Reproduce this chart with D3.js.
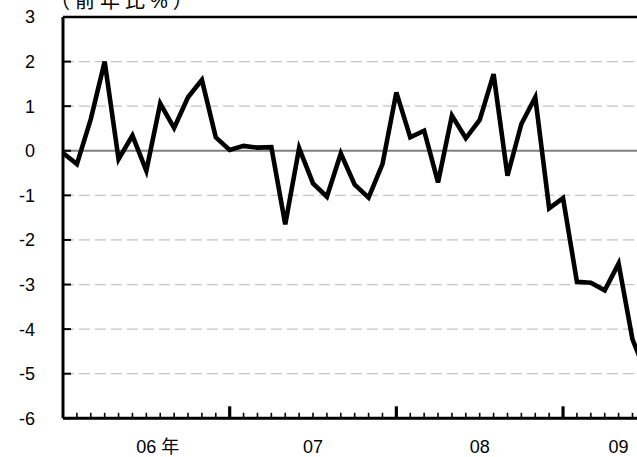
<!DOCTYPE html>
<html>
<head>
<meta charset="utf-8">
<script src="https://cdn.jsdelivr.net/npm/d3@7"></script>
<style>
  body { margin: 0; background: #fff; }
  svg { display: block; font-family: "Liberation Sans", Arial, "Noto Sans CJK JP", sans-serif; }
</style>
</head>
<body>
<div id="chart"></div>
<script>
// monthly y/y change (%), Jan 2006 onward
const yoy = [
  -0.05, -0.30, 0.71, 2.00, -0.19, 0.34, -0.45, 1.06, 0.51, 1.20, 1.59, 0.30,
  0.02, 0.11, 0.07, 0.08, -1.65, 0.06, -0.73, -1.03, -0.06, -0.76, -1.05, -0.30,
  1.31, 0.30, 0.45, -0.71, 0.79, 0.28, 0.69, 1.72, -0.56, 0.60, 1.20, -1.29,
  -1.06, -2.94, -2.96, -3.13, -2.53, -4.23, -5.00
];
const yearLabels = ['06', '07', '08', '09'];
const yearSuffix = ['年', '', '', ''];
const yearStarts = [0, 12, 24, 36];
const axisMonths = 44;
const yTicks = [3, 2, 1, 0, -1, -2, -3, -4, -5, -6];
const unitLabel = '（前年比%）';

const W = 637, H = 457;
const plotLeft = 63, plotTop = 17, plotBottom = 418.3;
const monthW = 13.89;

const svg = d3.select('#chart').append('svg')
  .attr('width', W).attr('height', H);

const x = d3.scaleLinear().domain([0, axisMonths]).range([plotLeft, plotLeft + axisMonths * monthW]);
const y = d3.scaleLinear().domain([-6, 3]).range([plotBottom, plotTop]);

// dashed gridlines
svg.append('g')
  .selectAll('line')
  .data(yTicks.filter(d => d !== 0 && d !== 3 && d !== -6))
  .join('line')
  .attr('x1', plotLeft).attr('x2', x(axisMonths))
  .attr('y1', d => y(d)).attr('y2', d => y(d))
  .attr('stroke', '#c4c4c4')
  .attr('stroke-width', 1.3)
  .attr('stroke-dasharray', '11,5');

// zero line
svg.append('line')
  .attr('x1', plotLeft).attr('x2', x(axisMonths))
  .attr('y1', y(0)).attr('y2', y(0))
  .attr('stroke', '#808080')
  .attr('stroke-width', 1.8);

// series
const line = d3.line()
  .x((d, i) => x(i))
  .y(d => y(d));

svg.append('path')
  .datum(yoy)
  .attr('d', line)
  .attr('fill', 'none')
  .attr('stroke', '#000')
  .attr('stroke-width', 4.6)
  .attr('stroke-linejoin', 'miter');

// y tick marks (inward)
svg.append('g')
  .selectAll('line')
  .data(yTicks)
  .join('line')
  .attr('x1', plotLeft).attr('x2', plotLeft + 8)
  .attr('y1', d => y(d)).attr('y2', d => y(d))
  .attr('stroke', '#000')
  .attr('stroke-width', 2);

// y tick labels
svg.append('g')
  .selectAll('text')
  .data(yTicks)
  .join('text')
  .attr('x', 35)
  .attr('y', d => y(d))
  .attr('dy', '0.36em')
  .attr('text-anchor', 'end')
  .attr('font-size', 18)
  .attr('fill', '#000')
  .text(d => d);

// x tick marks: minor each month, major at year starts
const months = d3.range(1, axisMonths);
svg.append('g')
  .selectAll('line')
  .data(months)
  .join('line')
  .attr('x1', d => x(d)).attr('x2', d => x(d))
  .attr('y1', plotBottom)
  .attr('y2', d => yearStarts.includes(d) ? plotBottom - 12 : plotBottom - 5.5)
  .attr('stroke', '#000')
  .attr('stroke-width', d => yearStarts.includes(d) ? 3.2 : 1.6);

// frame: left axis, bottom axis, top border
svg.append('line')
  .attr('x1', plotLeft).attr('x2', plotLeft)
  .attr('y1', plotTop).attr('y2', plotBottom)
  .attr('stroke', '#000').attr('stroke-width', 3);
svg.append('line')
  .attr('x1', plotLeft).attr('x2', x(axisMonths))
  .attr('y1', plotBottom).attr('y2', plotBottom)
  .attr('stroke', '#000').attr('stroke-width', 3);
svg.append('line')
  .attr('x1', plotLeft).attr('x2', x(axisMonths))
  .attr('y1', plotTop).attr('y2', plotTop)
  .attr('stroke', '#000').attr('stroke-width', 2.5);

// year labels, centred on the months each year covers
const yearG = svg.append('g');
yearLabels.forEach((lab, i) => {
  const start = yearStarts[i];
  const end = Math.min(start + 12, axisMonths);
  const cx = x((start + end) / 2);
  const t = yearG.append('text')
    .attr('y', 453)
    .attr('font-size', 18)
    .attr('fill', '#000');
  t.append('tspan').text(lab);
  if (yearSuffix[i]) t.append('tspan').attr('dx', 5).text(yearSuffix[i]);
  const w = t.select('tspan').node().getComputedTextLength();
  t.attr('x', cx - w / 2);
});

// unit label (cut off at the top, as in the source)
svg.append('text')
  .attr('x', 50)
  .attr('y', 8)
  .attr('font-size', 20)
  .attr('letter-spacing', 5)
  .attr('fill', '#000')
  .text(unitLabel);
</script>
</body>
</html>
